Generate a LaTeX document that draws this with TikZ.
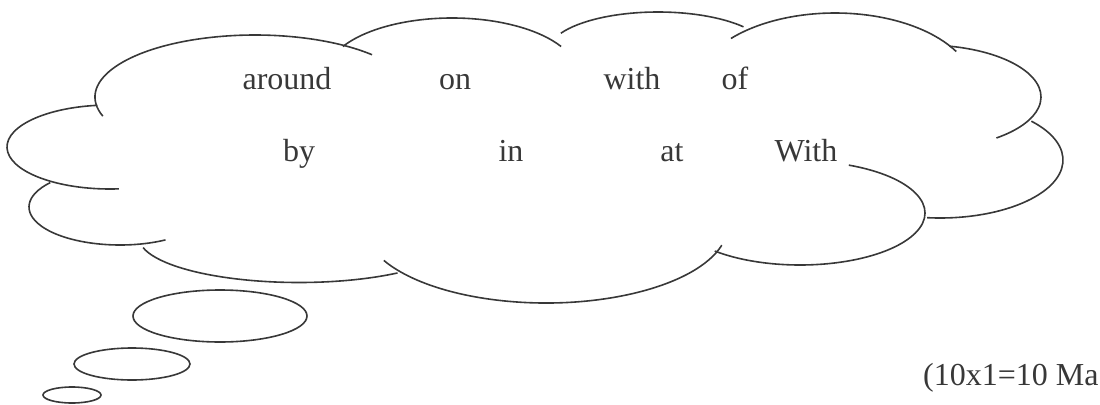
\documentclass[tikz,border=0pt]{standalone}
\usepackage{fontspec}
\setmainfont{Liberation Serif}
\usepackage{tikz}
\usetikzlibrary{positioning}
\definecolor{inkgray}{HTML}{383838}
\tikzset{every text node part/.style={font={\fontsize{16}{19}\selectfont}}}
\tikzstyle{lobe} = [draw=inkgray, line width=0.8pt]
\tikzstyle{word} = [text=inkgray, anchor=base, inner sep=0pt]

\begin{document}
\begin{tikzpicture}[x=0.5pt, y=0.5pt]
    \useasboundingbox (0,0) rectangle (1100,404);

    % Cloud lobes
    \draw[lobe] ([shift={(198:160 and 62)}]255,307) arc[start angle=198, end angle=43, x radius=160, y radius=62];
    \draw[lobe] ([shift={(150:126 and 57)}]452,329) arc[start angle=150, end angle=30, x radius=126, y radius=57];
    \draw[lobe] ([shift={(152:110 and 40)}]658,352) arc[start angle=152, end angle=39, x radius=110, y radius=40];
    \draw[lobe] ([shift={(138:140 and 77)}]835,314) arc[start angle=138, end angle=30, x radius=140, y radius=77];
    \draw[lobe] ([shift={(78:116 and 52)}]925,307) arc[start angle=78, end angle=-52, x radius=116, y radius=52];
    \draw[lobe] ([shift={(42:123 and 58)}]940,244) arc[start angle=42, end angle=-96, x radius=123, y radius=58];
    \draw[lobe] ([shift={(67:125 and 52)}]800,191) arc[start angle=67, end angle=-133, x radius=125, y radius=52];
    \draw[lobe] ([shift={(-15:182 and 78)}]546,179) arc[start angle=-15, end angle=-153, x radius=182, y radius=78];
    \draw[lobe] ([shift={(-52:160 and 45)}]299,166.5) arc[start angle=-52, end angle=-167, x radius=160, y radius=45];
    \draw[lobe] ([shift={(-60:91 and 38)}]120,197) arc[start angle=-60, end angle=-220, x radius=91, y radius=38];
    \draw[lobe] ([shift={(97:103 and 42)}]110,257) arc[start angle=97, end angle=275, x radius=103, y radius=42];

    % Thought bubbles
    \draw[lobe] (220,88) ellipse [x radius=87, y radius=26];
    \draw[lobe] (132,40) ellipse [x radius=58, y radius=16];
    \draw[lobe] (72,9) ellipse [x radius=29, y radius=8];

    % Words
    \node[word] (w-around) at (287,315) {around};
    \node[word] (w-on) at (455,315) {on};
    \node[word] (w-with) at (632,315) {with};
    \node[word] (w-of) at (735,315) {of};
    \node[word] (w-by) at (299,243) {by};
    \node[word] (w-in) at (511,243) {in};
    \node[word] (w-at) at (672,243) {at};
    \node[word] (w-With) at (806,243) {With};

    \node[word, anchor=base east] (marks) at (1099,19) {(10x1=10 Ma};
\end{tikzpicture}
\end{document}
